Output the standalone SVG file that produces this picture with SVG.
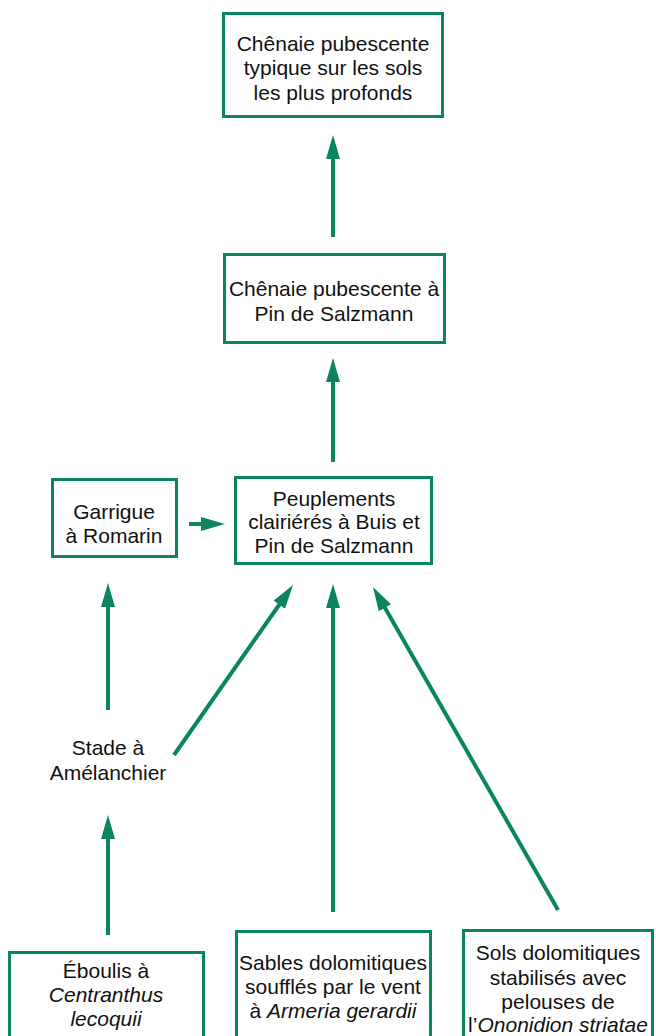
<svg xmlns="http://www.w3.org/2000/svg" width="656" height="1036" viewBox="0 0 656 1036">
<style>
.box{fill:#fff;stroke:#0b8461;stroke-width:3}
.t{font-family:"Liberation Sans",Arial,sans-serif;font-size:21px;fill:#111;text-anchor:middle}
.i{font-style:italic}
.c{stroke:#0b8461;stroke-width:4;fill:none;marker-end:url(#ah)}
</style>
<defs>
<marker id="ah" markerUnits="userSpaceOnUse" markerWidth="26" markerHeight="16" refX="2" refY="7" orient="auto" viewBox="0 0 26 16">
<path d="M0,0 L24,7 L0,14 z" fill="#0b8461"/>
</marker>
</defs>
<rect width="656" height="1036" fill="#fff"/>
<g id="n1">
<rect class="box" x="223.5" y="13.5" width="219" height="103"/>
<text class="t" x="333" y="51">Chênaie pubescente</text>
<text class="t" x="333" y="75">typique sur les sols</text>
<text class="t" x="333" y="100">les plus profonds</text>
</g>
<g id="n2">
<rect class="box" x="224.5" y="254.5" width="220" height="88"/>
<text class="t" x="334" y="296">Chênaie pubescente à</text>
<text class="t" x="334" y="321">Pin de Salzmann</text>
</g>
<g id="n3">
<rect class="box" x="235.5" y="477.5" width="196" height="86"/>
<text class="t" x="334" y="506">Peuplements</text>
<text class="t" x="334" y="529">clairiérés à Buis et</text>
<text class="t" x="334" y="553">Pin de Salzmann</text>
</g>
<g id="n4">
<rect class="box" x="52.5" y="479.5" width="124" height="77"/>
<text class="t" x="114" y="519">Garrigue</text>
<text class="t" x="114" y="543">à Romarin</text>
</g>
<g id="n5">
<text class="t" x="108" y="755">Stade à</text>
<text class="t" x="108" y="780">Amélanchier</text>
</g>
<g id="n6">
<rect class="box" x="9.5" y="952.5" width="194" height="100"/>
<text class="t" x="106" y="978">Éboulis à</text>
<text class="t i" x="106" y="1002">Centranthus</text>
<text class="t i" x="106" y="1026">lecoquii</text>
</g>
<g id="n7">
<rect class="box" x="236.5" y="931.5" width="194" height="120"/>
<text class="t" x="333" y="970">Sables dolomitiques</text>
<text class="t" x="333" y="994">soufflés par le vent</text>
<text class="t" x="333" y="1018">à <tspan class="i">Armeria gerardii</tspan></text>
</g>
<g id="n8">
<rect class="box" x="463.5" y="930.5" width="189" height="120"/>
<text class="t" x="558" y="960">Sols dolomitiques</text>
<text class="t" x="558" y="985">stabilisés avec</text>
<text class="t" x="558" y="1009">pelouses de</text>
<text class="t" x="558" y="1032">l’<tspan class="i">Ononidion striatae</tspan></text>
</g>
<g id="connectors">
<line class="c" x1="333" y1="237" x2="333" y2="157"/>
<line class="c" x1="333" y1="462" x2="333" y2="380"/>
<line class="c" x1="189" y1="524" x2="203" y2="524"/>
<line class="c" x1="108" y1="710" x2="108" y2="605"/>
<line class="c" x1="108" y1="935" x2="108" y2="837"/>
<line class="c" x1="333" y1="912" x2="333" y2="606"/>
<line class="c" x1="174" y1="755" x2="280.4" y2="603"/>
<line class="c" x1="558" y1="910" x2="383.9" y2="606.1"/>
</g>
</svg>
